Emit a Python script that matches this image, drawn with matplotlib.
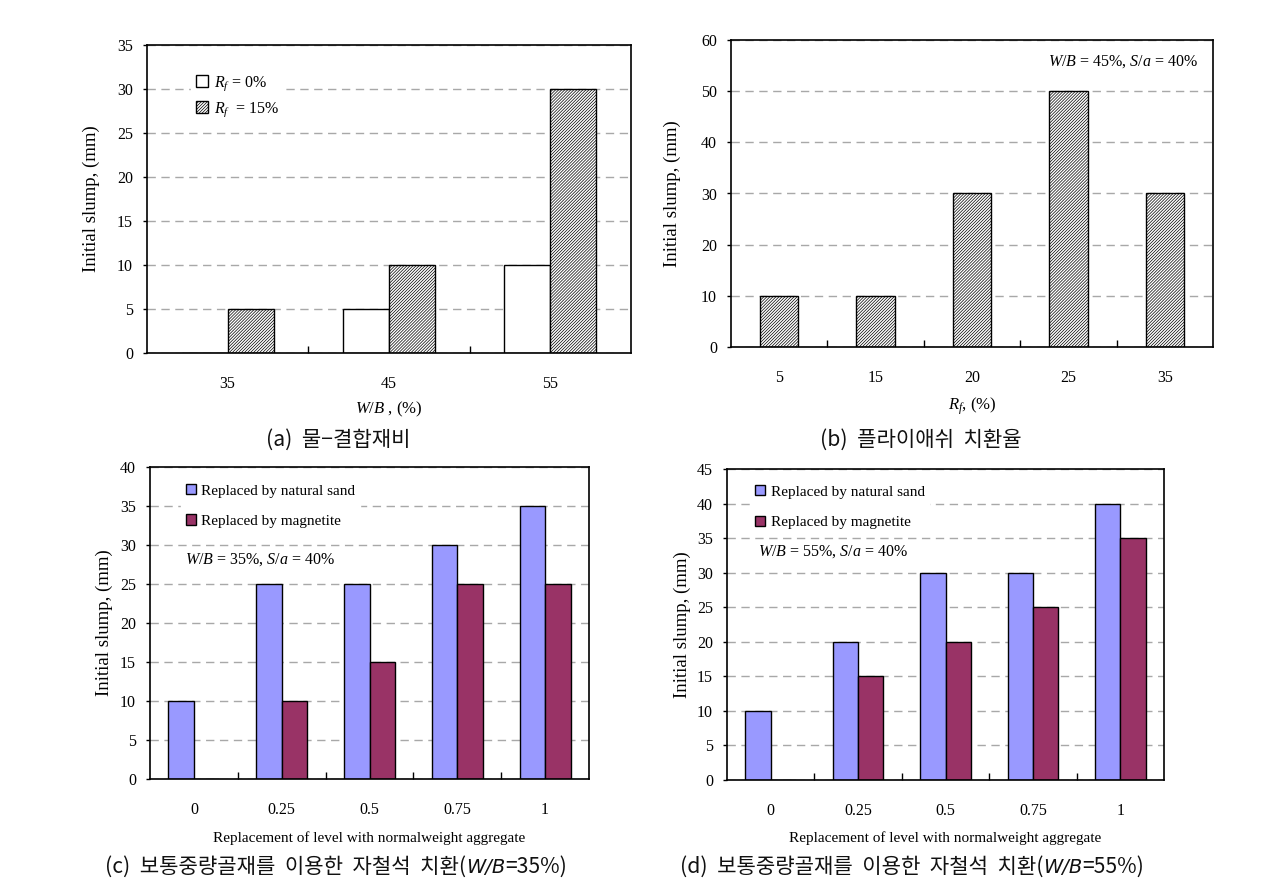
import matplotlib
matplotlib.use('Agg')
import matplotlib.pyplot as plt
import numpy as np
from matplotlib.offsetbox import TextArea, HPacker, AnchoredOffsetbox

plt.rcParams['font.family'] = ['Liberation Serif', 'DejaVu Serif']
plt.rcParams['mathtext.fontset'] = 'custom'
plt.rcParams['mathtext.rm'] = 'Liberation Serif'
plt.rcParams['mathtext.it'] = 'Liberation Serif:italic'
plt.rcParams['hatch.linewidth'] = 0.5

W, H = 1268, 888
KR = ['Noto Sans CJK KR', 'DejaVu Sans']

# (a) water-binder ratio
wb_cats = ['35', '45', '55']
rf0 = [0, 5, 10]
rf15 = [5, 10, 30]

# (b) fly ash replacement
rf_cats = ['5', '15', '20', '25', '35']
slump_b = [10, 10, 30, 50, 30]

# (c), (d) magnetite replacement
level_cats = ['0', '0.25', '0.5', '0.75', '1']
sand_35 = [10, 25, 25, 30, 35]
magn_35 = [0, 10, 15, 25, 25]
sand_55 = [10, 20, 30, 30, 40]
magn_55 = [0, 15, 20, 25, 35]

blue = '#9999FF'
plum = '#993366'
HATCH = '/' * 11
ylab = 'Initial slump, (mm)'
xlab_cd = 'Replacement of level with normalweight aggregate'


def box(l, t, r, b):
    return [l / W, 1 - b / H, (r - l) / W, (b - t) / H]


def style(ax, cats, ymax, ystep):
    n = len(cats)
    ax.set_xlim(-0.5, n - 0.5)
    ax.set_ylim(0, ymax)
    ax.set_yticks(np.arange(0, ymax + 1, ystep))
    ax.set_xticks(range(n))
    ax.set_xticklabels(cats)
    ax.set_xticks(np.arange(0.5, n - 1), minor=True)
    ax.tick_params(axis='x', which='major', length=0, pad=16.5, labelsize=11.5)
    ax.tick_params(axis='x', which='minor', direction='in', length=5, width=1)
    ax.tick_params(axis='y', direction='out', length=3, width=1, pad=7, labelsize=11.5)
    ax.yaxis.grid(True, color='#a8a8a8', linestyle=(0, (6, 4)), linewidth=1)
    ax.set_axisbelow(True)
    for s in ax.spines.values():
        s.set_linewidth(1.2)


def labels(ax, xl, xl_size, xy, yx):
    ax.set_xlabel(xl, fontsize=xl_size)
    ax.xaxis.set_label_coords(0.5, xy)
    ax.xaxis.label.set_va('center')
    ax.set_ylabel(ylab, fontsize=13.5)
    ax.yaxis.set_label_coords(yx, 0.5)
    ax.yaxis.label.set_va('center')


def caption(parts, x, y):
    boxes = [TextArea(t, textprops=p) for t, p in parts]
    hp = HPacker(children=boxes, align='baseline', pad=0, sep=0)
    ab = AnchoredOffsetbox(loc='center', child=hp, frameon=False, pad=0, borderpad=0,
                           bbox_to_anchor=(x / W, 1 - y / H), bbox_transform=fig.transFigure)
    fig.add_artist(ab)


fig = plt.figure(figsize=(W / 100, H / 100), dpi=100)

# ---- (a)
ax = fig.add_axes(box(147, 45, 631, 353))
style(ax, wb_cats, 35, 5)
x = np.arange(len(wb_cats))
w = 0.286
b0 = ax.bar(x - w / 2, rf0, w, color='white', edgecolor='black', linewidth=1)
b1 = ax.bar(x + w / 2, rf15, w, color='white', edgecolor='black', linewidth=1, hatch=HATCH)
ax.legend([b0, b1], [r'$R_f$ = 0%', r'$R_f$  = 15%'], loc='upper left',
          bbox_to_anchor=(0.075, 0.947), fontsize=11.5, frameon=True, fancybox=False,
          facecolor='white', edgecolor='white', framealpha=1, borderpad=0.3,
          handlelength=0.75, handleheight=0.75, handletextpad=0.4, labelspacing=0.5)
labels(ax, r'$W/B$ , (%)', 12, -0.182, -0.114)

# ---- (b)
ax = fig.add_axes(box(731, 40, 1213, 347))
style(ax, rf_cats, 60, 10)
ax.bar(np.arange(len(rf_cats)), slump_b, 0.4, color='white', edgecolor='black',
       linewidth=1, hatch=HATCH)
ax.text(0.969, 0.928, r'$W/B$ = 45%, $S/a$ = 40%', transform=ax.transAxes,
        ha='right', va='center', fontsize=11.5)
labels(ax, r'$R_f$, (%)', 12, -0.192, -0.122)

# ---- (c), (d)
for rect, sand, magn, ymax, txt, tpos, lpos in [
        (box(150, 467, 589, 779), sand_35, magn_35, 40, '35', (0.08, 0.702), (0.054, 0.984)),
        (box(727, 469, 1164, 780), sand_55, magn_55, 45, '55', (0.071, 0.733), (0.037, 0.987))]:
    ax = fig.add_axes(rect)
    style(ax, level_cats, ymax, 5)
    x = np.arange(len(level_cats))
    w = 0.29
    ax.bar(x - w / 2, sand, w, color=blue, edgecolor='black', linewidth=1,
           label='Replaced by natural sand')
    ax.bar(x + w / 2, magn, w, color=plum, edgecolor='black', linewidth=1,
           label='Replaced by magnetite')
    ax.legend(loc='upper left', bbox_to_anchor=lpos, fontsize=11, frameon=True,
              fancybox=False, facecolor='white', edgecolor='white', framealpha=1,
              borderpad=0.3, handlelength=0.65, handleheight=0.65, handletextpad=0.35,
              labelspacing=1.1)
    ax.text(tpos[0], tpos[1], r'$W/B$ = ' + txt + r'%, $S/a$ = 40%', transform=ax.transAxes,
            ha='left', va='center', fontsize=11.5)
    labels(ax, xlab_cd, 11, -0.188, -0.103)

# ---- captions
kr = dict(family=KR, fontsize=15.2, color='#111111')
kri = dict(family='DejaVu Sans', style='italic', fontsize=14, color='#111111')
caption([('(a)  물−결합재비', kr)], 338, 440)
caption([('(b)  플라이애쉬  치환율', kr)], 921, 440)
caption([('(c)  보통중량골재를  이용한  자철석  치환(', kr), ('W/B', kri), ('=35%)', kr)], 336, 867)
caption([('(d)  보통중량골재를  이용한  자철석  치환(', kr), ('W/B', kri), ('=55%)', kr)], 912, 867)

fig.savefig('out.png', dpi=100)
